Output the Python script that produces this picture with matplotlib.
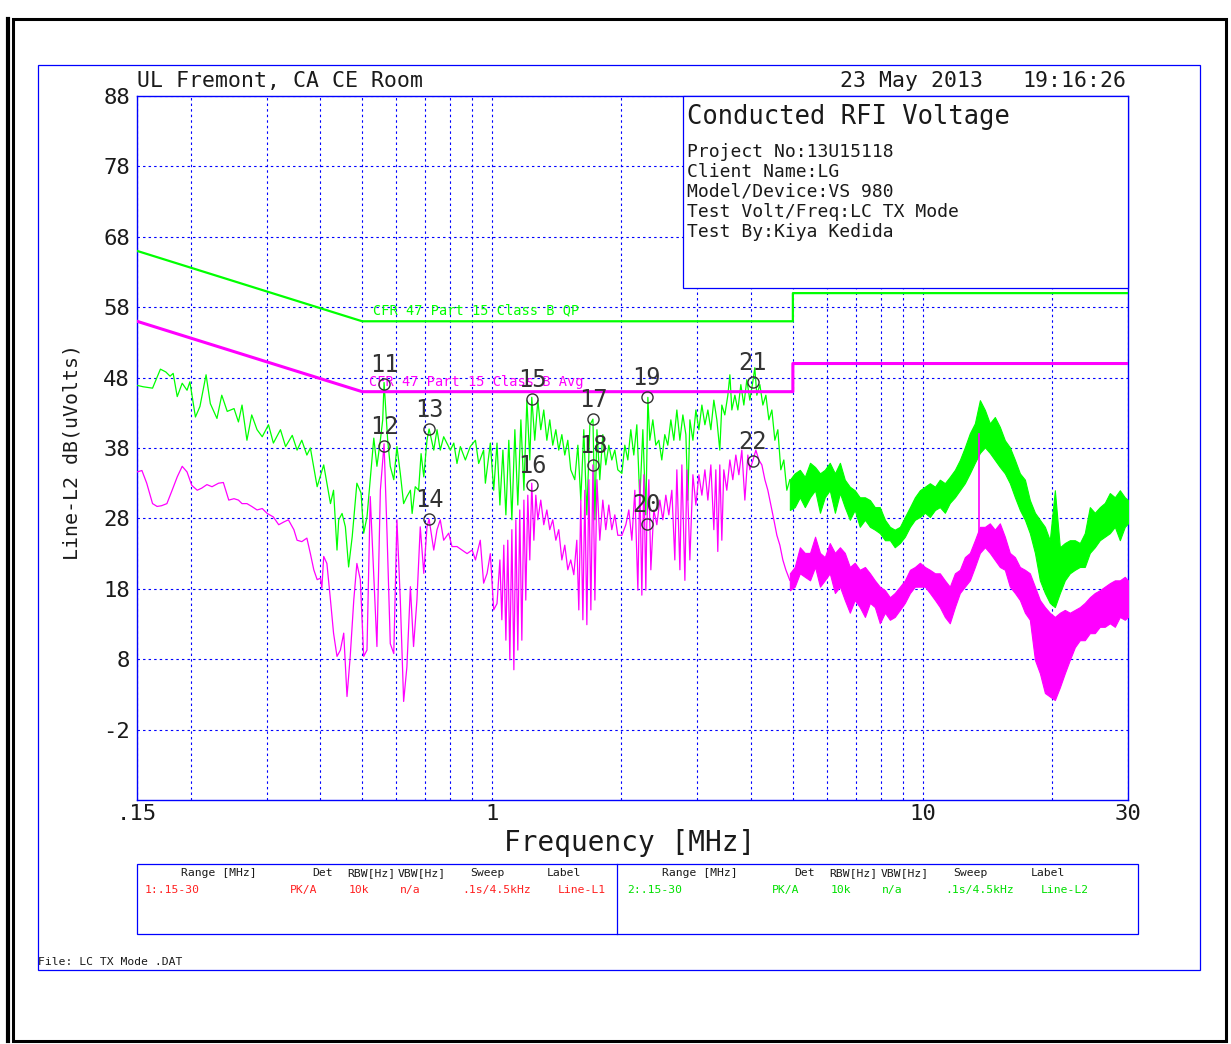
import matplotlib
matplotlib.use("Agg")
import matplotlib.pyplot as plt
from matplotlib.patches import Rectangle
from matplotlib.ticker import FixedLocator, NullFormatter

plt.rcParams['font.family'] = ['DejaVu Sans Mono', 'DejaVu Sans']
plt.rcParams['axes.unicode_minus'] = False

W, H = 1231, 1044

# CFR 47 Part 15 Class B limits
limit_f = [0.15, 0.5, 5, 5, 30]
qp_db = [66, 56, 56, 60, 60]
avg_db = [56, 46, 46, 50, 50]

# peak trace (green), 0.15 - 4.9 MHz, (MHz, dBuV)
green_trace = [
    (0.150, 46.9), (0.155, 46.7), (0.163, 46.5), (0.170, 49.2), (0.175, 48.8), (0.179, 48.2),
    (0.182, 48.6), (0.186, 45.3), (0.191, 47.2), (0.196, 46.2), (0.199, 47.4), (0.205, 42.4),
    (0.210, 43.9), (0.217, 48.4), (0.222, 44.3), (0.230, 42.2), (0.236, 45.5), (0.243, 43.2),
    (0.252, 43.6), (0.258, 41.7), (0.263, 44.1), (0.270, 39.1), (0.277, 42.7), (0.285, 40.6),
    (0.293, 39.6), (0.303, 41.3), (0.311, 38.7), (0.323, 40.6), (0.332, 38.2), (0.344, 39.8),
    (0.353, 37.7), (0.362, 39.1), (0.372, 37.0), (0.379, 38.0), (0.393, 32.5), (0.407, 35.6),
    (0.422, 30.1), (0.429, 32.0), (0.437, 23.5), (0.441, 27.8), (0.449, 28.7), (0.457, 26.8),
    (0.465, 21.1), (0.474, 25.4), (0.486, 33.0), (0.497, 31.6), (0.504, 25.9), (0.513, 28.2),
    (0.522, 33.5), (0.532, 39.4), (0.541, 35.4), (0.551, 39.1), (0.558, 42.0), (0.562, 47.3),
    (0.573, 39.1), (0.581, 35.4), (0.592, 33.5), (0.602, 38.2), (0.613, 34.4), (0.624, 30.1),
    (0.635, 31.1), (0.647, 32.0), (0.653, 28.7), (0.664, 32.5), (0.676, 32.0), (0.685, 37.2),
    (0.695, 33.9), (0.707, 39.1), (0.715, 40.7), (0.733, 37.7), (0.746, 40.6), (0.759, 37.7),
    (0.773, 39.6), (0.801, 37.7), (0.816, 38.7), (0.830, 35.8), (0.845, 38.2), (0.868, 36.3),
    (0.891, 38.2), (0.916, 39.1), (0.932, 35.8), (0.957, 37.7), (0.966, 33.0), (0.992, 38.7),
    (1.010, 32.0), (1.028, 38.7),
    (1.044, 29.9), (1.061, 37.7), (1.078, 28.5), (1.095, 39.1), (1.113, 27.8), (1.131, 40.6),
    (1.149, 29.9), (1.168, 42.0), (1.187, 32.0), (1.206, 44.8), (1.225, 36.3), (1.238, 45.2),
    (1.258, 39.1), (1.279, 44.8), (1.299, 40.6), (1.320, 43.4), (1.342, 39.1), (1.363, 42.0),
    (1.385, 38.4), (1.408, 40.6), (1.430, 37.7), (1.454, 39.9), (1.477, 37.0), (1.501, 39.1),
    (1.525, 34.9), (1.558, 33.5), (1.584, 38.4), (1.609, 30.6), (1.635, 40.6), (1.662, 28.5),
    (1.689, 41.3), (1.717, 42.1), (1.735, 27.8), (1.754, 40.6), (1.781, 33.5), (1.810, 39.9),
    (1.839, 35.6), (1.869, 38.4), (1.899, 36.3), (1.930, 37.7), (1.961, 34.9), (2.004, 34.4),
    (2.036, 38.4), (2.069, 36.3), (2.102, 40.6), (2.136, 37.0), (2.171, 41.3), (2.206, 30.6),
    (2.242, 40.6), (2.278, 28.5), (2.303, 45.2), (2.327, 39.1), (2.365, 42.0), (2.403, 38.4),
    (2.442, 39.1), (2.481, 36.3), (2.521, 39.9), (2.562, 38.4), (2.604, 42.0), (2.646, 39.1),
    (2.689, 43.4), (2.733, 39.1), (2.777, 42.7), (2.822, 39.9), (2.852, 30.6), (2.883, 42.0),
    (2.930, 39.1), (2.977, 43.4), (3.025, 40.6), (3.074, 44.1), (3.124, 41.3), (3.174, 43.4),
    (3.225, 40.6), (3.277, 44.8), (3.330, 42.0), (3.383, 37.7), (3.420, 44.1), (3.475, 42.7),
    (3.532, 45.5), (3.570, 48.4), (3.608, 43.4), (3.667, 45.5), (3.726, 43.4), (3.786, 47.0),
    (3.847, 44.1), (3.909, 47.7), (3.972, 44.8), (4.036, 47.4), (4.079, 49.4), (4.124, 45.5),
    (4.191, 47.0), (4.259, 44.1), (4.328, 45.5), (4.398, 42.0), (4.469, 43.4), (4.541, 39.1),
    (4.614, 40.6), (4.688, 34.9), (4.764, 36.3), (4.841, 32.0), (4.920, 33.5),
]

# average trace (magenta), 0.15 - 4.9 MHz
mag_trace = [
    (0.150, 34.6), (0.154, 34.8), (0.158, 33.0), (0.163, 30.1), (0.167, 29.7), (0.171, 29.8),
    (0.176, 30.1), (0.181, 32.0), (0.186, 33.9), (0.191, 35.4), (0.196, 34.6), (0.201, 32.7),
    (0.207, 32.0), (0.212, 32.3), (0.218, 32.8), (0.224, 32.5), (0.232, 33.0), (0.238, 33.1),
    (0.245, 30.6), (0.252, 30.8), (0.258, 30.6), (0.263, 30.1), (0.270, 30.1), (0.277, 29.7),
    (0.285, 29.2), (0.293, 29.4), (0.301, 28.7), (0.311, 28.2), (0.320, 27.1), (0.329, 27.5),
    (0.337, 27.8), (0.347, 26.4), (0.353, 24.9), (0.362, 24.7), (0.372, 25.2), (0.379, 23.0),
    (0.386, 20.7), (0.393, 19.3), (0.400, 19.5), (0.403, 18.1), (0.407, 22.6), (0.414, 21.6),
    (0.422, 16.4), (0.429, 11.7), (0.437, 8.4), (0.445, 9.3), (0.453, 11.7), (0.461, 2.7),
    (0.469, 8.4), (0.478, 16.4), (0.486, 21.6), (0.495, 19.3), (0.504, 8.4), (0.513, 9.3),
    (0.522, 31.1), (0.532, 19.7), (0.541, 9.8), (0.551, 32.0), (0.562, 38.6), (0.571, 25.9),
    (0.581, 10.2), (0.592, 8.8), (0.602, 27.8), (0.613, 16.4), (0.624, 2.0), (0.635, 6.9),
    (0.647, 18.3), (0.658, 9.8), (0.670, 16.4), (0.682, 26.8), (0.695, 20.2), (0.707, 26.8),
    (0.715, 27.9), (0.733, 23.5), (0.746, 26.4), (0.759, 27.8), (0.773, 24.9), (0.794, 25.9),
    (0.808, 24.0), (0.830, 24.0), (0.853, 23.5), (0.876, 23.0), (0.900, 23.5), (0.916, 22.1),
    (0.940, 24.9), (0.957, 18.8), (0.975, 20.2), (0.992, 23.0), (1.010, 15.0), (1.028, 15.9),
    (1.044, 22.1), (1.055, 13.6), (1.066, 24.2), (1.078, 10.7), (1.089, 24.9), (1.101, 7.9),
    (1.113, 26.4), (1.125, 6.5), (1.137, 27.8), (1.149, 9.3), (1.161, 29.2), (1.174, 10.7),
    (1.187, 30.6), (1.199, 16.4), (1.212, 31.3), (1.225, 22.1), (1.238, 33.0), (1.252, 24.9),
    (1.265, 31.3), (1.279, 27.8), (1.299, 30.6), (1.320, 27.1), (1.342, 29.2), (1.363, 26.4),
    (1.385, 27.8), (1.408, 24.9), (1.430, 26.4), (1.454, 22.1), (1.477, 24.2), (1.501, 20.7),
    (1.525, 22.1), (1.550, 20.0), (1.575, 24.9), (1.592, 15.0), (1.609, 30.6), (1.627, 13.6),
    (1.644, 32.0), (1.662, 12.9), (1.680, 33.5), (1.698, 15.0), (1.717, 35.6), (1.735, 16.4),
    (1.754, 33.5), (1.781, 24.9), (1.810, 30.6), (1.839, 26.4), (1.869, 29.9), (1.899, 26.4),
    (1.930, 28.5), (1.961, 25.6), (2.004, 25.6), (2.047, 27.1), (2.080, 29.2), (2.114, 24.9),
    (2.148, 32.0), (2.183, 17.8), (2.206, 33.5), (2.230, 17.1), (2.254, 34.2), (2.278, 17.8),
    (2.290, 27.2), (2.315, 33.5), (2.340, 20.7), (2.377, 29.2), (2.416, 27.1), (2.455, 30.6),
    (2.495, 27.8), (2.535, 31.3), (2.576, 28.5), (2.618, 32.0), (2.660, 22.1), (2.689, 34.9),
    (2.733, 20.7), (2.762, 35.6), (2.807, 19.2), (2.837, 34.9), (2.883, 22.1), (2.930, 34.2),
    (2.977, 29.9), (3.025, 34.2), (3.074, 31.3), (3.124, 34.9), (3.174, 30.6), (3.225, 35.6),
    (3.277, 26.4), (3.312, 34.9), (3.347, 23.3), (3.383, 35.6), (3.420, 24.9), (3.456, 34.9),
    (3.512, 32.0), (3.570, 36.3), (3.627, 33.5), (3.686, 37.0), (3.746, 34.2), (3.806, 37.7),
    (3.868, 30.6), (3.930, 37.0), (3.972, 34.9), (4.036, 36.2), (4.102, 37.7), (4.169, 36.3),
    (4.236, 35.6), (4.305, 33.5), (4.374, 32.0), (4.445, 29.9), (4.517, 27.8), (4.590, 25.6),
    (4.664, 24.2), (4.739, 22.1), (4.815, 20.7), (4.920, 19.2),
]

# dense part above 5 MHz: envelope (low / high) of each trace
band_f = [4.92, 5.05, 5.19, 5.33, 5.48, 5.63, 5.78, 5.93, 6.09, 6.26, 6.43, 6.60, 6.78,
          6.96, 7.15, 7.35, 7.55, 7.75, 7.96, 8.18, 8.40, 8.62, 8.86, 9.10, 9.35, 9.60,
          9.86, 10.13, 10.40, 10.69, 10.97, 11.27, 11.57, 11.89, 12.21, 12.54, 12.88, 13.23,
          13.59, 13.96, 14.33, 14.72, 15.12, 15.53, 15.95, 16.39, 16.83, 17.29, 17.75, 18.24,
          18.73, 19.24, 19.75, 20.29, 20.84, 21.40, 21.98, 22.58, 23.19, 23.81, 24.46, 25.12,
          25.80, 26.50, 27.22, 27.96, 28.72, 29.49, 30.0]
green_hi = [33.5, 34.4, 34.9, 33.9, 35.9, 35.3, 34.4, 34.9, 35.9, 34.4, 35.9, 33.5, 32.5,
            32.0, 31.0, 31.0, 30.6, 29.6, 29.6, 27.8, 26.8, 26.4, 26.8, 28.2, 29.6, 31.0,
            32.0, 32.5, 33.0, 32.5, 33.5, 33.0, 33.9, 34.9, 36.3, 38.1, 40.1, 41.5,
            44.8, 43.4, 41.5, 42.4, 41.0, 39.1, 38.1, 36.3, 34.4, 33.5, 30.6, 28.8,
            27.8, 26.8, 24.9, 32.0, 23.9, 24.5, 24.9, 24.9, 24.5, 25.9, 29.6, 28.8,
            29.6, 30.2, 31.6, 31.0, 32.0, 31.0, 30.6]
green_lo = [29.2, 29.6, 31.0, 29.6, 31.0, 32.0, 28.8, 31.0, 32.0, 28.8, 31.6, 29.6, 27.8,
            29.2, 26.8, 27.8, 26.8, 26.4, 25.9, 24.9, 24.9, 23.9, 24.5, 25.4, 26.8, 27.8,
            28.2, 28.8, 28.2, 29.2, 29.6, 28.8, 30.2, 31.0, 32.0, 33.0, 34.4, 35.9,
            37.3, 38.1, 37.3, 36.3, 35.3, 34.4, 33.0, 31.0, 29.2, 27.8, 25.9, 23.1,
            19.2, 17.4, 16.0, 15.4, 17.4, 19.2, 20.2, 20.7, 21.1, 21.1, 23.1, 23.9,
            24.9, 25.4, 25.9, 26.8, 24.9, 26.8, 27.3]
mag_hi = [20.2, 21.1, 23.9, 23.1, 23.1, 25.4, 23.1, 22.5, 24.5, 23.1, 23.9, 23.1, 21.1,
          21.7, 20.7, 21.1, 20.2, 19.2, 18.3, 17.8, 16.8, 17.4, 18.3, 19.2, 20.7, 21.1,
          21.7, 21.1, 20.7, 20.2, 20.2, 19.2, 18.3, 20.2, 20.7, 22.5, 23.1, 24.9,
          26.8, 26.8, 27.3, 26.4, 27.3, 25.4, 23.1, 22.5, 21.1, 20.7, 20.2, 18.3,
          16.4, 15.4, 14.6, 14.0, 14.6, 15.0, 14.6, 15.0, 15.4, 16.0, 16.8, 17.4,
          17.8, 18.3, 18.8, 19.2, 19.2, 19.7, 19.2]
mag_lo = [17.8, 18.3, 20.2, 19.7, 19.2, 21.1, 18.3, 19.2, 20.2, 17.4, 18.3, 16.4, 14.6,
          16.4, 15.4, 14.0, 16.0, 15.4, 13.1, 14.6, 13.6, 14.0, 15.0, 16.0, 17.4, 18.3,
          18.3, 18.3, 17.4, 16.4, 15.4, 14.0, 13.1, 15.4, 17.4, 18.3, 19.2, 21.1,
          23.1, 23.9, 23.1, 22.1, 21.1, 20.7, 18.3, 17.4, 16.4, 14.6, 13.6, 7.9,
          6.0, 3.2, 2.7, 2.2, 4.0, 6.0, 7.9, 9.7, 10.7, 10.7, 11.7, 11.7,
          12.6, 12.6, 13.1, 12.6, 14.0, 13.6, 14.0]
mag_spike_f = [13.5, 13.5]
mag_spike_db = [24.0, 40.0]

# marker table
marker_no = [11, 12, 13, 14, 15, 16, 17, 18, 19, 20, 21, 22]
marker_f = [0.562, 0.562, 0.715, 0.715, 1.239, 1.239, 1.717, 1.717, 2.29, 2.29, 4.04, 4.04]
marker_db = [47.1, 38.3, 40.7, 27.9, 45.0, 32.7, 42.1, 35.6, 45.2, 27.2, 47.4, 36.2]

x_major = [0.15, 1, 10, 30]
x_major_labels = ['.15', '1', '10', '30']
x_minor = [0.2, 0.3, 0.4, 0.5, 0.6, 0.7, 0.8, 0.9, 2, 3, 4, 5, 6, 7, 8, 9, 20]
y_ticks = [-2, 8, 18, 28, 38, 48, 58, 68, 78, 88]

info_lines = ['Project No:13U15118', 'Client Name:LG', 'Model/Device:VS 980',
              'Test Volt/Freq:LC TX Mode', 'Test By:Kiya Kedida']
table_head = ['Range [MHz]', 'Det', 'RBW[Hz]', 'VBW[Hz]', 'Sweep', 'Label']
table_row1 = ['1:.15-30', 'PK/A', '10k', 'n/a', '.1s/4.5kHz', 'Line-L1']
table_row2 = ['2:.15-30', 'PK/A', '10k', 'n/a', '.1s/4.5kHz', 'Line-L2']

blue = '#0000ff'
green = '#00ff00'
magenta = '#ff00ff'
grey = '#333333'
ink = '#1a1a1a'

fig = plt.figure(figsize=(W / 100, H / 100), dpi=100)
ax = fig.add_axes([137 / W, 1 - 800 / H, 991 / W, 704 / H])
ax.set_xscale('log')
ax.set_xlim(0.15, 30)
ax.set_ylim(-12, 88)

gf, gdb = zip(*green_trace)
mf, mdb = zip(*mag_trace)
ax.plot(gf, gdb, color=green, lw=0.9, zorder=3)
ax.fill_between(band_f, green_lo, green_hi, color=green, lw=0.8, zorder=3)
ax.plot(mf, mdb, color=magenta, lw=0.9, zorder=4)
ax.fill_between(band_f, mag_lo, mag_hi, color=magenta, lw=0.8, zorder=4)
ax.plot(mag_spike_f, mag_spike_db, color=magenta, lw=1.2, zorder=4)

ax.plot(limit_f, qp_db, color=green, lw=1.6, zorder=5)
ax.plot(limit_f, avg_db, color=magenta, lw=2.2, zorder=5)
ax.text(0.530, 57.6, 'CFR 47 Part 15 Class B QP', color=green, fontsize=9.8,
        va='center', ha='left', zorder=6)
ax.text(0.518, 47.4, 'CFR 47 Part 15 Class B Avg', color=magenta, fontsize=9.8,
        va='center', ha='left', zorder=6)

ax.plot(marker_f, marker_db, 'o', ms=8, mfc='none', mec=grey, mew=1, zorder=7)
for n, f, v in zip(marker_no, marker_f, marker_db):
    ax.annotate(str(n), (f, v), xytext=(0, 5), textcoords='offset points',
                ha='center', va='bottom', fontsize=17, color=grey, zorder=7)

ax.xaxis.set_major_locator(FixedLocator(x_major))
ax.set_xticklabels(x_major_labels)
ax.xaxis.set_minor_locator(FixedLocator(x_minor))
ax.xaxis.set_minor_formatter(NullFormatter())
ax.set_yticks(y_ticks)
ax.tick_params(which='both', length=0, labelsize=16, colors=ink)
ax.tick_params(axis='y', pad=5)
ax.tick_params(axis='x', pad=3)
ax.grid(which='both', color=blue, lw=0.8, ls=(0, (2.2, 2.8)), zorder=1)
for s in ax.spines.values():
    s.set_color(blue)
    s.set_linewidth(1.0)

fig.text(72 / W, 1 - 452 / H, 'Line-L2 dB(uVolts)', rotation=90, ha='center',
         va='center', fontsize=14.3, color=ink)
fig.text(630 / W, 1 - 843 / H, 'Frequency [MHz]', ha='center', va='center',
         fontsize=20, color=ink)

# overlay in pixel coordinates for frames, header and tables
ov = fig.add_axes([0, 0, 1, 1], zorder=10)
ov.set_xlim(0, W)
ov.set_ylim(H, 0)
ov.axis('off')

ov.add_patch(Rectangle((13, 19), 1213, 1022, fill=False, ec='black', lw=2.2))
ov.plot([8, 8], [19, 1041], color='black', lw=3)
ov.add_patch(Rectangle((38, 65), 1162, 905, fill=False, ec=blue, lw=0.9))

ov.text(137, 81, 'UL Fremont, CA CE Room', fontsize=15.5, va='center', ha='left', color=ink)
ov.text(840, 81, '23 May 2013', fontsize=15.5, va='center', ha='left', color=ink)
ov.text(1022, 81, '19:16:26', fontsize=15.5, va='center', ha='left', color=ink)

ov.add_patch(Rectangle((683, 96), 445, 192, fc='white', ec=blue, lw=0.9))
ov.text(687, 117, 'Conducted RFI Voltage', fontsize=18.4, va='center', ha='left', color=ink)
for i, line in enumerate(info_lines):
    ov.text(687, 152 + 20 * i, line, fontsize=13, va='center', ha='left', color=ink)

ov.add_patch(Rectangle((137, 864), 1001, 70, fill=False, ec=blue, lw=0.9))
ov.plot([617, 617], [864, 934], color=blue, lw=0.9)
head_x1 = [181, 312, 347, 398, 470, 547]
row_x1 = [145, 290, 349, 400, 462, 558]
head_x2 = [662, 794, 829, 881, 953, 1031]
row_x2 = [627, 772, 831, 882, 945, 1041]
for hx, rx, h, r in zip(head_x1, row_x1, table_head, table_row1):
    ov.text(hx, 873, h, fontsize=8.2, va='center', ha='left', color=ink)
    ov.text(rx, 890, r, fontsize=8.2, va='center', ha='left', color='#ff2020')
for hx, rx, h, r in zip(head_x2, row_x2, table_head, table_row2):
    ov.text(hx, 873, h, fontsize=8.2, va='center', ha='left', color=ink)
    ov.text(rx, 890, r, fontsize=8.2, va='center', ha='left', color='#00e000')

ov.text(38, 962, 'File: LC TX Mode .DAT', fontsize=8.2, va='center', ha='left', color=ink)

fig.savefig('out.png', dpi=100)
